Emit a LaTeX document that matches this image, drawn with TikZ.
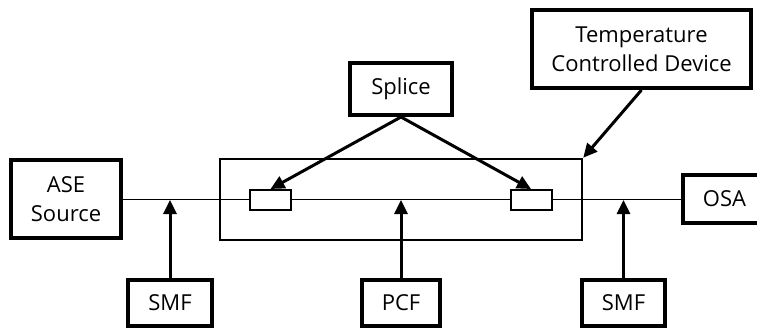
\documentclass[tikz,border=0pt]{standalone}
\usepackage{fontspec}
\setmainfont{Open Sans}
\usetikzlibrary{arrows.meta}
\begin{document}
\begin{tikzpicture}[x=1pt,y=-1pt,
  every node/.style={font=\fontsize{22}{29}\selectfont, align=center, inner sep=0pt},
  block/.style={draw, line width=4pt, fill=white},
  splicebox/.style={draw, line width=2pt, fill=white, minimum width=41pt, minimum height=20pt},
  fiber/.style={line width=1pt},
  pointer/.style={line width=3pt, -{Triangle[length=14pt,width=13pt]}}
]
\useasboundingbox (0,0) rectangle (757,331);
\clip (0,0) rectangle (757,331);

% source, analyser and fibre line
\node[block, minimum width=110pt, minimum height=78pt] (ase) at (66,199) {ASE\\Source};
\node[block, minimum width=87pt, minimum height=48pt, anchor=west] (osa) at (681,199) {\hspace*{-4pt}OSA};
\draw[fiber] (ase.east) -- (osa.west);

% temperature controlled enclosure
\node[draw, line width=2.5pt, minimum width=362pt, minimum height=81pt] (dev) at (401,199.5) {};
\draw[fiber] (dev.west) -- (dev.east);

% splice points
\node[splicebox] (spl) at (270.5,200) {};
\node[splicebox] (spr) at (531,200) {};

% label boxes
\node[block, minimum width=102pt, minimum height=52pt] (splice) at (401,89) {Splice};
\node[block, minimum width=219pt, minimum height=78pt] (temp) at (641.5,49) {Temperature\\Controlled Device};
\node[block, minimum width=84pt, minimum height=46pt] (smfa) at (170,303) {SMF};
\node[block, minimum width=78pt, minimum height=46pt] (pcf) at (401,303) {PCF};
\node[block, minimum width=83pt, minimum height=46pt] (smfb) at (623.5,303) {SMF};

% fibre points on the line
\coordinate (pa) at (170,200);
\coordinate (pb) at (401,200);
\coordinate (pc) at (623.5,200);

% pointers
\draw[pointer] (smfa.north) -- (pa);
\draw[pointer] (pcf.north) -- (pb);
\draw[pointer] (smfb.north) -- (pc);
\draw[pointer] (splice.south) -- (spl.north);
\draw[pointer] (splice.south) -- (spr.north);
\draw[pointer] (temp.south) -- (dev.north east);
\end{tikzpicture}
\end{document}
